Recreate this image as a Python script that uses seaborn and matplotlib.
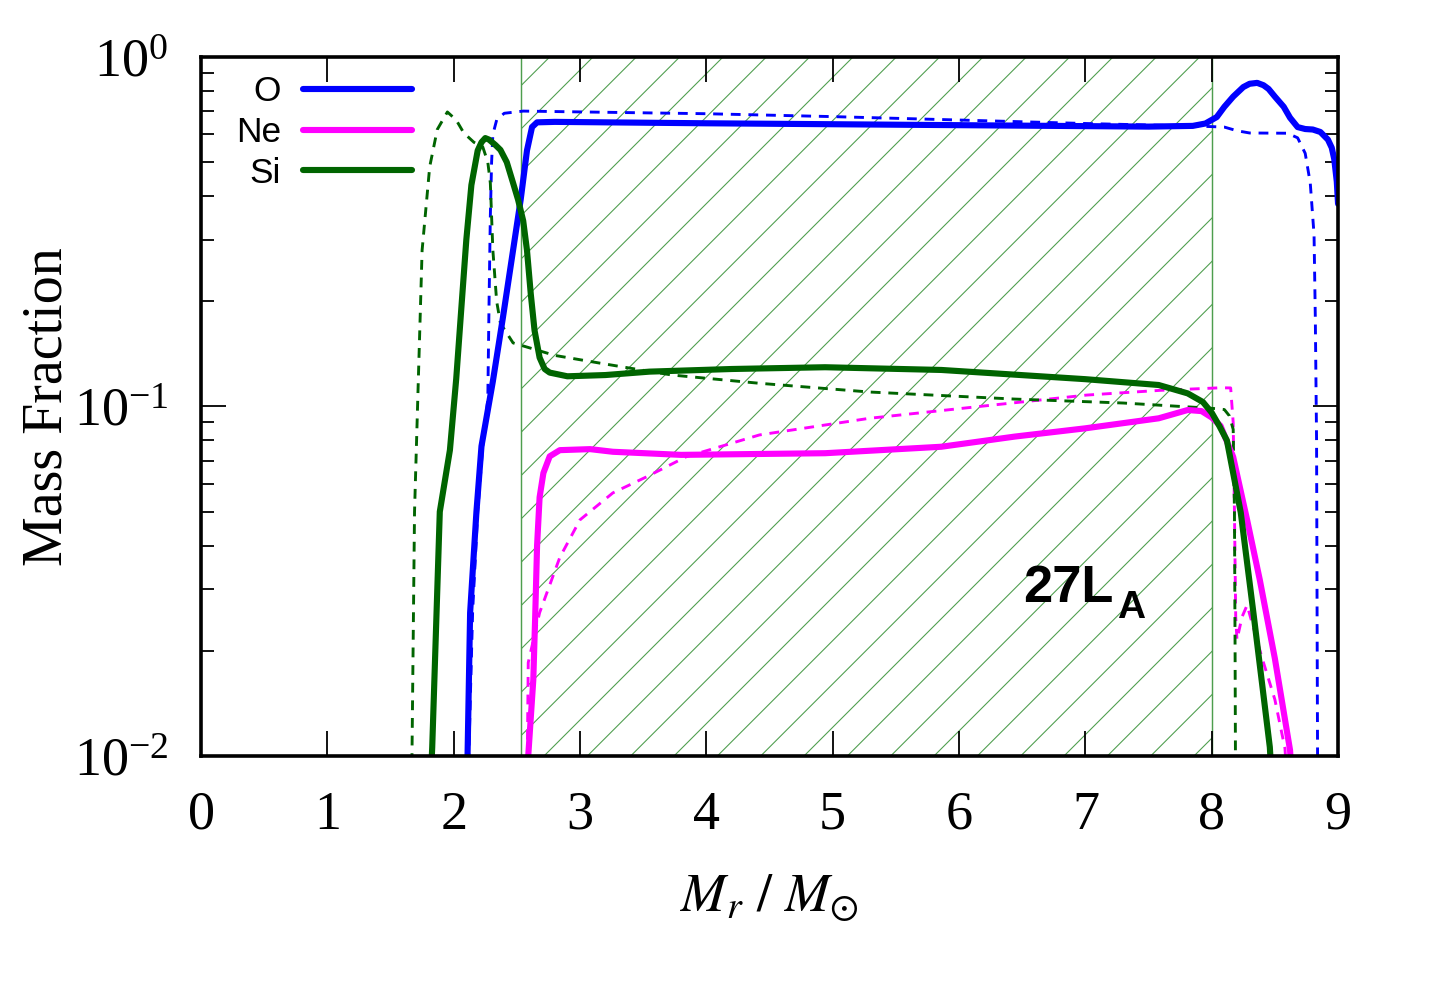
import numpy as np
import pandas as pd
import matplotlib
matplotlib.use('Agg')
import matplotlib.pyplot as plt
import matplotlib.ticker as mticker
import seaborn as sns

# mass fraction profiles (x = Mr/Msun)
# solid = one model, dashed = the other one
o_x = [2.10, 2.11, 2.13, 2.18, 2.22, 2.31, 2.39, 2.47, 2.53, 2.58, 2.62, 2.66, 2.8, 4.0, 6.0, 7.5,
       7.85, 7.95, 8.04, 8.1, 8.17, 8.25, 8.30, 8.36, 8.41, 8.45, 8.5, 8.57, 8.62, 8.68, 8.74, 8.8,
       8.86, 8.92, 8.95, 8.97, 8.99, 9.0]
o_y = [0.007, 0.0102, 0.0257, 0.05, 0.077, 0.118, 0.18, 0.28, 0.39, 0.54, 0.63, 0.65, 0.652, 0.646, 0.638, 0.632,
       0.635, 0.645, 0.673, 0.72, 0.77, 0.82, 0.838, 0.843, 0.83, 0.81, 0.77, 0.72, 0.67, 0.63, 0.622, 0.62,
       0.61, 0.58, 0.55, 0.51, 0.44, 0.38]

o2_x = [2.10, 2.12, 2.15, 2.19, 2.23, 2.27, 2.28, 2.29, 2.30, 2.31, 2.34, 2.40, 2.55, 4.0, 5.0, 6.0, 7.0,
        7.8, 8.0, 8.1, 8.2, 8.3, 8.6, 8.68, 8.74, 8.78, 8.81, 8.82, 8.83, 8.835, 8.84]
o2_y = [0.006, 0.0102, 0.026, 0.05, 0.077, 0.105, 0.2, 0.35, 0.5, 0.6, 0.66, 0.69, 0.70, 0.688, 0.675, 0.66, 0.645,
        0.635, 0.632, 0.63, 0.615, 0.606, 0.605, 0.587, 0.53, 0.436, 0.31, 0.18, 0.08, 0.02, 0.006]

ne_x = [2.585, 2.59, 2.63, 2.645, 2.66, 2.68, 2.71, 2.76, 2.84, 3.08, 3.26, 3.8, 4.94, 5.86, 6.44, 7.0,
        7.58, 7.81, 7.92, 8.0, 8.07, 8.17, 8.28, 8.38, 8.5, 8.62, 8.64]
ne_y = [0.007, 0.01, 0.0165, 0.025, 0.04, 0.055, 0.0645, 0.072, 0.075, 0.0755, 0.0742, 0.0727, 0.0735, 0.0767, 0.082, 0.0866,
        0.0925, 0.0977, 0.097, 0.093, 0.088, 0.0717, 0.0474, 0.032, 0.019, 0.0104, 0.008]

ne2_x = [2.58, 2.585, 2.59, 2.68, 2.84, 3.0, 3.26, 3.53, 3.84, 4.42, 5.29, 6.15, 7.01, 7.59, 8.07, 8.15,
         8.17, 8.18, 8.19, 8.20, 8.24, 8.28, 8.32, 8.4, 8.5, 8.58, 8.6]
ne2_y = [0.007, 0.012, 0.0185, 0.0257, 0.037, 0.0474, 0.0566, 0.063, 0.0718, 0.0829, 0.0925, 0.0999, 0.1078, 0.1112, 0.1131, 0.113,
         0.09, 0.05, 0.025, 0.0215, 0.025, 0.027, 0.024, 0.019, 0.0145, 0.0105, 0.008]

si_x = [1.80, 1.83, 1.89, 1.97, 2.02, 2.06, 2.10, 2.14, 2.19, 2.22, 2.25, 2.28, 2.33, 2.37, 2.42, 2.47,
        2.51, 2.55, 2.58, 2.61, 2.64, 2.68, 2.72, 2.76, 2.9, 3.2, 3.55, 4.2, 4.94, 5.86, 7.0, 7.58,
        7.81, 7.93, 8.0, 8.06, 8.12, 8.23, 8.33, 8.46, 8.48]
si_y = [0.006, 0.0106, 0.05, 0.075, 0.12, 0.19, 0.30, 0.43, 0.54, 0.57, 0.586, 0.58, 0.56, 0.542, 0.5, 0.436,
        0.39, 0.34, 0.28, 0.21, 0.165, 0.138, 0.128, 0.125, 0.122, 0.123, 0.1258, 0.128, 0.1295, 0.1272, 0.1197, 0.1152,
        0.109, 0.103, 0.096, 0.088, 0.080, 0.0497, 0.0257, 0.0106, 0.008]

si2_x = [1.665, 1.67, 1.69, 1.72, 1.75, 1.81, 1.87, 1.95, 2.02, 2.08, 2.16, 2.23, 2.27, 2.29, 2.31, 2.34,
         2.37, 2.47, 2.8, 3.16, 3.55, 3.73, 4.42, 5.29, 6.44, 7.3, 8.0, 8.1, 8.14, 8.17, 8.18, 8.185, 8.19]
si2_y = [0.006, 0.0102, 0.05, 0.119, 0.28, 0.485, 0.62, 0.696, 0.66, 0.606, 0.57, 0.553, 0.5, 0.436, 0.28, 0.2,
         0.173, 0.152, 0.14, 0.133, 0.126, 0.123, 0.1165, 0.110, 0.105, 0.1023, 0.0988, 0.098, 0.094, 0.086, 0.05, 0.02, 0.006]

# hatched zone
zone_lo, zone_hi = 2.53, 8.0

BLUE = '#0000ff'
MAGENTA = '#ff00ff'
GREEN = '#006400'

sns.set_style('ticks')
plt.rcParams['font.family'] = ['Liberation Serif', 'DejaVu Serif']
plt.rcParams['mathtext.fontset'] = 'stix'
plt.rcParams['hatch.linewidth'] = 0.6
for k in ['text.color', 'axes.labelcolor', 'xtick.color', 'ytick.color', 'xtick.labelcolor', 'ytick.labelcolor']:
    plt.rcParams[k] = 'black'

fig = plt.figure(figsize=(1440 / 130, 1008 / 130), dpi=130)
ax = fig.add_axes([0.1396, 0.25, 0.7896, 0.6935])

ax.axvspan(zone_lo, zone_hi, facecolor='none', edgecolor='#4e9e4e', hatch='/', linewidth=0.8, zorder=0)

dash = (0, (3.4, 2.7))
sns.lineplot(x=o2_x, y=o2_y, ax=ax, color=BLUE, lw=1.6, linestyle=dash, sort=False, estimator=None)
sns.lineplot(x=ne2_x, y=ne2_y, ax=ax, color=MAGENTA, lw=1.6, linestyle=dash, sort=False, estimator=None)
sns.lineplot(x=si2_x, y=si2_y, ax=ax, color=GREEN, lw=1.6, linestyle=dash, sort=False, estimator=None)
sns.lineplot(x=o_x, y=o_y, ax=ax, color=BLUE, lw=3.4, label='O', sort=False, estimator=None)
sns.lineplot(x=ne_x, y=ne_y, ax=ax, color=MAGENTA, lw=3.4, label='Ne', sort=False, estimator=None)
sns.lineplot(x=si_x, y=si_y, ax=ax, color=GREEN, lw=3.4, label='Si', sort=False, estimator=None)

ax.set_yscale('log')
ax.set_xlim(0, 9)
ax.set_ylim(0.01, 1)

ax.xaxis.set_major_locator(mticker.MultipleLocator(1))
ax.xaxis.set_minor_locator(mticker.NullLocator())
ax.yaxis.set_major_locator(mticker.LogLocator(base=10))
ax.yaxis.set_minor_locator(mticker.LogLocator(base=10, subs=np.arange(2, 10)))
ax.yaxis.set_minor_formatter(mticker.NullFormatter())

ax.tick_params(which='both', direction='in', top=True, right=True, width=1.0, color='black')
ax.tick_params(which='major', length=14, labelsize=30)
ax.tick_params(which='minor', length=7)
ax.tick_params(axis='x', pad=19)
ax.tick_params(axis='y', pad=18)
for sp in ax.spines.values():
    sp.set_linewidth(2)
    sp.set_color('black')
    sp.set_zorder(5)

ax.set_xlabel(r'$M_r\ /\ M_{\odot}$', fontsize=30)
ax.set_ylabel('Mass Fraction', fontsize=31)
ax.xaxis.set_label_coords(0.5, -0.167)
ax.yaxis.set_label_coords(-0.112, 0.5)

handles, labels = ax.get_legend_handles_labels()
ax.legend(handles, labels, loc='upper left', bbox_to_anchor=(0.0308, 0.974), frameon=False,
          markerfirst=False, borderpad=0, borderaxespad=0, handlelength=3.1, handletextpad=0.63,
          labelspacing=0.22, prop={'family': 'Liberation Sans', 'size': 19.5})

ax.text(6.51, 0.0276, '27L', fontsize=29, fontweight='bold', family='Liberation Sans',
        ha='left', va='baseline')
ax.annotate('A', xy=(6.51, 0.0276), xytext=(52, -9), textcoords='offset points', fontsize=21.5,
            fontweight='bold', family='Liberation Sans', ha='left', va='baseline')

fig.savefig('out.png', dpi=130)
